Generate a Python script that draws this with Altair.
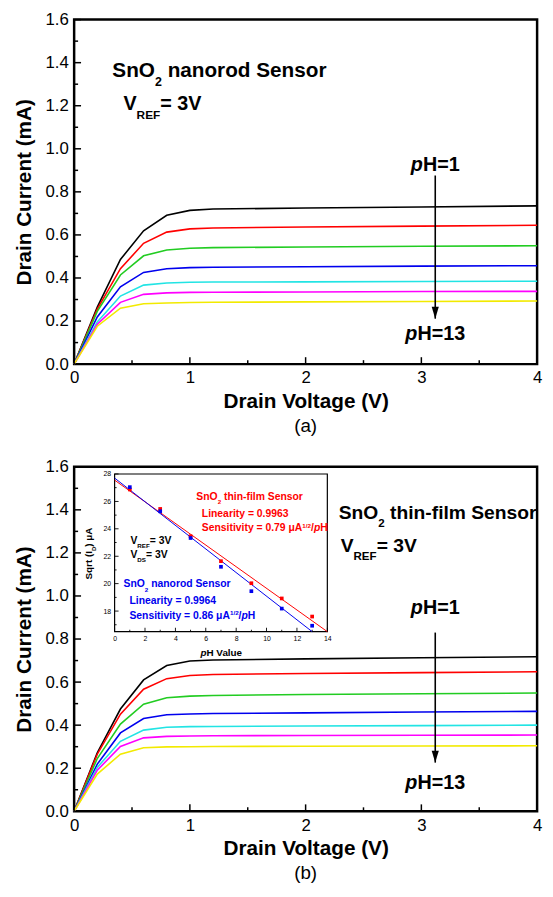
import altair as alt
import pandas as pd

FONT = "Liberation Sans"

# ---------------- main I-V curves ----------------
VD = [0.0, 0.2, 0.4, 0.6, 0.8, 1.0, 1.2, 2.0, 3.0, 4.0]
SERIES = ["pH 1", "pH 3", "pH 5", "pH 7", "pH 9", "pH 11", "pH 13"]
COLORS = ["#000000", "#ff0000", "#22cc22", "#0000ee", "#22e4e4", "#ff00ff", "#f2ea00"]

# panel (a): SnO2 nanorod sensor
A_PH1 = [0, 0.265, 0.486, 0.619, 0.691, 0.714, 0.720, 0.725, 0.730, 0.735]
A_PH3 = [0, 0.255, 0.443, 0.561, 0.613, 0.628, 0.632, 0.637, 0.641, 0.645]
A_PH5 = [0, 0.245, 0.414, 0.503, 0.530, 0.538, 0.541, 0.544, 0.547, 0.550]
A_PH7 = [0, 0.219, 0.359, 0.426, 0.443, 0.448, 0.450, 0.452, 0.455, 0.457]
A_PH9 = [0, 0.196, 0.316, 0.367, 0.377, 0.380, 0.381, 0.382, 0.384, 0.385]
A_PH11 = [0, 0.185, 0.287, 0.324, 0.331, 0.333, 0.334, 0.335, 0.337, 0.338]
A_PH13 = [0, 0.176, 0.260, 0.280, 0.284, 0.286, 0.287, 0.289, 0.291, 0.293]

# panel (b): SnO2 thin-film sensor
B_PH1 = [0, 0.272, 0.475, 0.610, 0.677, 0.698, 0.703, 0.708, 0.713, 0.718]
B_PH3 = [0, 0.265, 0.451, 0.567, 0.616, 0.631, 0.635, 0.640, 0.644, 0.648]
B_PH5 = [0, 0.245, 0.405, 0.497, 0.527, 0.535, 0.538, 0.542, 0.546, 0.549]
B_PH7 = [0, 0.219, 0.364, 0.431, 0.448, 0.452, 0.454, 0.457, 0.461, 0.464]
B_PH9 = [0, 0.204, 0.325, 0.377, 0.390, 0.393, 0.394, 0.396, 0.398, 0.400]
B_PH11 = [0, 0.191, 0.301, 0.341, 0.348, 0.350, 0.351, 0.352, 0.353, 0.354]
B_PH13 = [0, 0.173, 0.265, 0.295, 0.299, 0.300, 0.301, 0.302, 0.303, 0.304]

X_MAJOR = [0, 1, 2, 3, 4]
X_MINOR = [0.5, 1.5, 2.5, 3.5]
Y_MAJOR = [0.0, 0.2, 0.4, 0.6, 0.8, 1.0, 1.2, 1.4, 1.6]
Y_MINOR = [0.1, 0.3, 0.5, 0.7, 0.9, 1.1, 1.3, 1.5]

# arrows (x, start, tip)
A_ARROW = [3.12, 0.876, 0.211]
B_ARROW = [3.12, 0.830, 0.226]

# ---------------- inset (sqrt(Id) vs pH) ----------------
PH_POINTS = [1, 3, 5, 7, 9, 11, 13]
FILM_SQRT = [26.87, 25.45, 23.46, 21.64, 20.03, 18.92, 17.60]
ROD_SQRT = [27.04, 25.28, 23.33, 21.23, 19.45, 18.18, 16.93]
FILM_FIT_PH = [0, 14]
FILM_FIT = [27.55, 16.5]
ROD_FIT_PH = [0, 13.0]
ROD_FIT = [27.70, 16.5]
INSET_X_MAJOR = [0, 2, 4, 6, 8, 10, 12, 14]
INSET_X_MINOR = [1, 3, 5, 7, 9, 11, 13]
INSET_Y_MAJOR = [18, 20, 22, 24, 26, 28]
INSET_Y_MINOR = [17, 19, 21, 23, 25, 27]

W, H = 469, 349

SX = alt.Scale(domain=[0, 4], nice=False, zero=False)
SY = alt.Scale(domain=[0, 1.6], nice=False, zero=False)
SXI = alt.Scale(domain=[0, 14], range=[41, 256.5], nice=False, zero=False)
SYI = alt.Scale(domain=[16.5, 28], range=[167, 7.3], nice=False, zero=False)

BW = {' ': 278, '(': 333, ')': 333, '-': 333, '.': 278, '/': 278, '=': 584,
      'A': 722, 'C': 722, 'D': 722, 'E': 667, 'F': 611, 'H': 722, 'I': 278,
      'L': 611, 'O': 778, 'R': 722, 'S': 667, 'V': 667,
      'a': 556, 'c': 556, 'd': 611, 'e': 556, 'f': 333, 'g': 611, 'h': 611,
      'i': 278, 'l': 278, 'm': 889, 'n': 611, 'o': 611, 'p': 611, 'q': 611,
      'r': 389, 's': 556, 't': 333, 'u': 611, 'v': 556, 'y': 556, 'μ': 611}
for _d in "0123456789":
    BW[_d] = 556


def tw(text, size):
    return sum(BW.get(c, 600) for c in text) * size / 1000.0


def rich_text(parts, x, y, size, color, xs, ys, align="left", angle=0):
    layers = []
    sizes = [size if k in ("b", "i") else round(size * 0.6, 1) for _, k in parts]
    total = sum(tw(t, s) for (t, _), s in zip(parts, sizes))
    cur = -total / 2 if align == "center" else 0.0
    for (t, k), s in zip(parts, sizes):
        lead = len(t) - len(t.lstrip(" "))
        trail = len(t) - len(t.rstrip(" "))
        core = t.strip(" ")
        cur += tw(" " * lead, s)
        dy = 0.0
        if k == "sub":
            dy = 0.42 * size
        elif k == "sup":
            dy = -0.36 * size
        kw = dict(align="left", baseline="alphabetic", dx=round(cur, 2), dy=round(dy, 2),
                  fontSize=s, fontWeight="bold", font=FONT, color=color,
                  fontStyle="italic" if k == "i" else "normal")
        if angle:
            kw["angle"] = angle
        df = pd.DataFrame({"x": [x], "y": [y], "t": [core]})
        layers.append(alt.Chart(df).mark_text(**kw).encode(
            x=alt.X("x:Q", scale=xs), y=alt.Y("y:Q", scale=ys), text="t:N"))
        cur += tw(core, s) + tw(" " * trail, s)
    return layers


def tick_layer(values, base, size, xs, ys, along_x, thick=1.5):
    df = pd.DataFrame({"v": values, "b": [base] * len(values)})
    if along_x:
        return alt.Chart(df).mark_tick(orient="vertical", size=size, thickness=thick,
                                       color="black", opacity=1, yOffset=-size / 2).encode(
            x=alt.X("v:Q", scale=xs), y=alt.Y("b:Q", scale=ys))
    return alt.Chart(df).mark_tick(orient="horizontal", size=size, thickness=thick,
                                   color="black", opacity=1, xOffset=size / 2).encode(
        x=alt.X("b:Q", scale=xs), y=alt.Y("v:Q", scale=ys))


def curves_df(cols):
    rows = []
    for name, vals in zip(SERIES, cols):
        for v, i in zip(VD, vals):
            rows.append({"V": v, "I": i, "series": name})
    return pd.DataFrame(rows)


XAXIS = alt.Axis(values=X_MAJOR, format="d", title="Drain Voltage (V)", labelFontSize=17,
                 titleFontSize=21, titleFontWeight="bold", ticks=False, tickSize=0,
                 labelPadding=6, titlePadding=5, domain=False, grid=False,
                 labelFlush=False, labelOverlap=False)
YAXIS = alt.Axis(values=Y_MAJOR, format=".1f", title="Drain Current (mA)", labelFontSize=17,
                 titleFontSize=21, titleFontWeight="bold", ticks=False, tickSize=0,
                 labelPadding=6, titlePadding=11, domain=False, grid=False,
                 labelOverlap=False)

PATH_HEAD = "M-0.6,-1L0.6,-1L0,1Z"


def main_group(cols, sensor_parts, sensor_xy, sensor_size, vref_xy, vref_size, arrow, ph1_y, ph13_y):
    lines = alt.Chart(curves_df(cols)).mark_line(strokeWidth=1.6).encode(
        x=alt.X("V:Q", scale=SX, axis=XAXIS),
        y=alt.Y("I:Q", scale=SY, axis=YAXIS),
        color=alt.Color("series:N", scale=alt.Scale(domain=SERIES, range=COLORS), legend=None),
        detail="series:N")
    layers = [lines,
              tick_layer(X_MAJOR, 0, 7, SX, SY, True),
              tick_layer(X_MINOR, 0, 4, SX, SY, True),
              tick_layer(Y_MAJOR, 0, 7, SX, SY, False),
              tick_layer(Y_MINOR, 0, 4, SX, SY, False)]
    adf = pd.DataFrame({"x": [arrow[0]], "y1": [arrow[1]], "y2": [arrow[2]]})
    layers.append(alt.Chart(adf).mark_rule(strokeWidth=1.6, color="black").encode(
        x=alt.X("x:Q", scale=SX), y=alt.Y("y1:Q", scale=SY), y2="y2:Q"))
    layers.append(alt.Chart(adf).mark_point(shape=PATH_HEAD, size=144, filled=True, color="black",
                                            opacity=1, yOffset=-6).encode(
        x=alt.X("x:Q", scale=SX), y=alt.Y("y2:Q", scale=SY)))
    layers += rich_text(sensor_parts, sensor_xy[0], sensor_xy[1], sensor_size, "black", SX, SY)
    layers += rich_text([("V", "b"), ("REF", "sub"), ("= 3V", "b")], vref_xy[0], vref_xy[1],
                        vref_size, "black", SX, SY)
    layers += rich_text([("p", "i"), ("H=1", "b")], arrow[0], ph1_y, 20, "black", SX, SY,
                        align="center")
    layers += rich_text([("p", "i"), ("H=13", "b")], arrow[0], ph13_y, 20, "black", SX, SY,
                        align="center")
    return alt.layer(*layers)


def inset_group():
    fdf = pd.DataFrame({"x0": [0], "x1": [14], "y0": [16.5], "y1": [28]})
    frame = alt.Chart(fdf).mark_rect(fill="white", stroke="black", strokeWidth=1.2).encode(
        x=alt.X("x0:Q", scale=SXI, axis=alt.Axis(orient="bottom", offset=-(H - 167),
                values=INSET_X_MAJOR, labelFontSize=7, labelPadding=3, ticks=False, tickSize=0,
                domain=False, grid=False, title=None, labelFlush=False, labelOverlap=False)),
        x2="x1:Q",
        y=alt.Y("y0:Q", scale=SYI, axis=alt.Axis(orient="left", offset=-41,
                values=INSET_Y_MAJOR, labelFontSize=7, labelPadding=4, ticks=False, tickSize=0,
                domain=False, grid=False, title=None, labelOverlap=False)),
        y2="y1:Q")
    layers = [frame,
              tick_layer(INSET_X_MAJOR, 16.5, 4, SXI, SYI, True, 0.9),
              tick_layer(INSET_X_MINOR, 16.5, 2, SXI, SYI, True, 0.9),
              tick_layer(INSET_Y_MAJOR, 0, 4, SXI, SYI, False, 0.9),
              tick_layer(INSET_Y_MINOR, 0, 2, SXI, SYI, False, 0.9)]
    for fx, fy, col in [(FILM_FIT_PH, FILM_FIT, "#ff0000"), (ROD_FIT_PH, ROD_FIT, "#0000ee")]:
        layers.append(alt.Chart(pd.DataFrame({"x": fx, "y": fy})).mark_line(
            strokeWidth=1, color=col).encode(
            x=alt.X("x:Q", scale=SXI), y=alt.Y("y:Q", scale=SYI)))
    for vals, col in [(FILM_SQRT, "#ff0000"), (ROD_SQRT, "#0000ee")]:
        layers.append(alt.Chart(pd.DataFrame({"x": PH_POINTS, "y": vals})).mark_point(
            shape="square", filled=True, size=14, color=col, opacity=1).encode(
            x=alt.X("x:Q", scale=SXI), y=alt.Y("y:Q", scale=SYI)))
    red, blue = "#ff0000", "#0000ee"
    layers += rich_text([("SnO", "b"), ("2", "sub"), (" thin-film Sensor", "b")], 5.38, 26.1, 10.5, red, SXI, SYI)
    layers += rich_text([("Linearity = 0.9963", "b")], 5.74, 24.88, 10.5, red, SXI, SYI)
    layers += rich_text([("Sensitivity = 0.79 μA", "b"), ("1/2", "sup"), ("/", "b"), ("p", "i"), ("H", "b")],
                        5.74, 23.82, 10.5, red, SXI, SYI)
    layers += rich_text([("V", "b"), ("REF", "sub"), ("= 3V", "b")], 1.04, 22.91, 10.5, "black", SXI, SYI)
    layers += rich_text([("V", "b"), ("DS", "sub"), ("= 3V", "b")], 1.04, 21.88, 10.5, "black", SXI, SYI)
    layers += rich_text([("SnO", "b"), ("2", "sub"), (" nanorod Sensor", "b")], 0.585, 19.72, 10.5, blue, SXI, SYI)
    layers += rich_text([("Linearity = 0.9964", "b")], 0.975, 18.54, 10.5, blue, SXI, SYI)
    layers += rich_text([("Sensitivity = 0.86 μA", "b"), ("1/2", "sup"), ("/", "b"), ("p", "i"), ("H", "b")],
                        0.975, 17.44, 10.5, blue, SXI, SYI)
    layers += rich_text([("Sqrt (I", "b"), ("D", "sub"), (") μA", "b")], -1.5, 22.2, 10, "black",
                        SXI, SYI, align="center", angle=270)
    layers += rich_text([("p", "i"), ("H Value", "b")], 7.04, 14.75, 10, "black", SXI, SYI, align="center")
    return alt.layer(*layers)


def caption(text):
    return alt.TitleParams(text=text, orient="bottom", anchor="middle", frame="group",
                           fontSize=19, fontWeight="normal", font=FONT, color="black", offset=6)


panel_a = main_group([A_PH1, A_PH3, A_PH5, A_PH7, A_PH9, A_PH11, A_PH13],
                     [("SnO", "b"), ("2", "sub"), (" nanorod Sensor", "b")], (0.33, 1.334), 21,
                     (0.426, 1.178), 20, A_ARROW, 0.897, 0.110).properties(
    width=W, height=H, title=caption("(a)"))

main_b = main_group([B_PH1, B_PH3, B_PH5, B_PH7, B_PH9, B_PH11, B_PH13],
                    [("SnO", "b"), ("2", "sub"), (" thin-film Sensor", "b")], (2.286, 1.357), 19.5,
                    (2.303, 1.204), 19.5, B_ARROW, 0.917, 0.103)
panel_b = alt.layer(main_b, inset_group()).resolve_scale(
    x="independent", y="independent").properties(width=W, height=H, title=caption("(b)"))

chart = alt.vconcat(panel_a, panel_b, spacing=18,
                    padding={"left": 4, "top": -5, "right": 2, "bottom": 0}).configure_view(
    stroke="black", strokeWidth=2.5).configure_axis(
    labelFont=FONT, titleFont=FONT, labelColor="black", titleColor="black", grid=False).configure_title(
    font=FONT, color="black")

chart.save("out.html", embed_options={"renderer": "svg", "actions": False})
